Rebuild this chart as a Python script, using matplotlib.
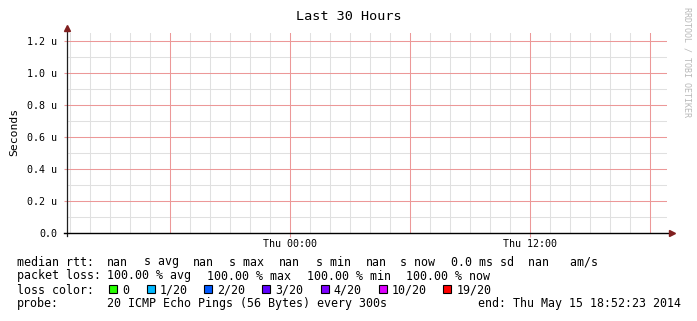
import datetime as dt
import numpy as np
import matplotlib
matplotlib.use("Agg")
import matplotlib.pyplot as plt
import matplotlib.dates as mdates
from matplotlib.patches import Rectangle

# graph window (smokeping "Last 30 Hours")
end_time = dt.datetime(2014, 5, 15, 18, 52, 23)
start_time = end_time - dt.timedelta(hours=30)

# median rtt samples - probe got nothing back, every value is nan
rtt_times = []
rtt_values = []

y_top = 1.25e-6
y_ticks = [0.0, 0.2e-6, 0.4e-6, 0.6e-6, 0.8e-6, 1.0e-6, 1.2e-6]
y_tick_labels = ["0.0", "0.2 u", "0.4 u", "0.6 u", "0.8 u", "1.0 u", "1.2 u"]
y_minor = [0.1e-6, 0.3e-6, 0.5e-6, 0.7e-6, 0.9e-6, 1.1e-6]
x_label_times = [dt.datetime(2014, 5, 15, 0, 0), dt.datetime(2014, 5, 15, 12, 0)]
x_tick_labels = ["Thu 00:00", "Thu 12:00"]

# legend text
rtt_stats = ["nan", "nan", "nan", "nan", "0.0", "nan"]
loss_stats = ["100.00", "100.00", "100.00", "100.00"]
loss_labels = ["0", "1/20", "2/20", "3/20", "4/20", "10/20", "19/20"]
loss_colors = ["#26ff00", "#00b8ff", "#0059ff", "#5e00ff", "#7e00ff", "#dd00ff", "#ff0000"]
probe_text = "20 ICMP Echo Pings (56 Bytes) every 300s"
end_text = "end: Thu May 15 18:52:23 2014"

W, H = 697, 321
mono = "DejaVu Sans Mono"
fig = plt.figure(figsize=(W / 100, H / 100), dpi=100)
fig.patch.set_facecolor("white")

# plot area 600x200 px
ax = fig.add_axes([67 / W, (H - 233) / H, 600 / W, 200 / H])
ax.set_xlim(start_time, end_time)
ax.set_ylim(0, y_top)

for s in ax.spines.values():
    s.set_visible(False)

major_col = "#ec9898"
minor_col = "#e0e0e0"

# grid: hour lines grey, every 6h red; y every 0.1u grey, every 0.2u red
hours = mdates.HourLocator().tick_values(start_time, end_time)
for h in hours:
    on_major = mdates.num2date(h).hour % 6 == 0
    if mdates.date2num(start_time) < h < mdates.date2num(end_time):
        ax.axvline(h, color=major_col if on_major else minor_col, lw=0.75,
                   snap=True, zorder=1.5 if on_major else 1)
for y in y_minor:
    ax.axhline(y, color=minor_col, lw=0.75, snap=True, zorder=1)
for y in y_ticks[1:]:
    ax.axhline(y, color=major_col, lw=0.75, snap=True, zorder=1.5)

ax.plot(rtt_times, rtt_values, color="#000000", zorder=3)

ax.set_xticks(mdates.date2num(x_label_times))
ax.set_xticklabels(x_tick_labels, family=mono, size=7.2)
ax.set_yticks(y_ticks)
ax.set_yticklabels(y_tick_labels, family=mono, size=7.2)
ax.tick_params(axis="x", length=3, color=major_col, pad=1)
ax.tick_params(axis="y", length=2, color=major_col, pad=5)

# axes lines + arrows like rrdtool
ax.plot([0, 0], [-3 / 200, 1 + 5 / 200], color="#1f1f1f", lw=0.9,
        transform=ax.transAxes, clip_on=False, zorder=4)
ax.plot([-3 / 600, 1 + 3 / 600], [0, 0], color="#000000", lw=1.0,
        transform=ax.transAxes, clip_on=False, zorder=4)
ax.plot([0], [1 + 5 / 200], marker="^", ms=4, color="#801f1f", mec="#801f1f",
        transform=ax.transAxes, clip_on=False, zorder=5)
ax.plot([1 + 5 / 600], [0], marker=">", ms=4, color="#801f1f", mec="#801f1f",
        transform=ax.transAxes, clip_on=False, zorder=5)


def put(x, y, s, **kw):
    kw.setdefault("family", mono)
    kw.setdefault("size", 8.4)
    fig.text(x / W, 1 - y / H, s, va="baseline", ha="left", **kw)


fig.text(349 / W, 1 - 16 / H, "Last 30 Hours", ha="center", va="center",
         family=mono, size=9.7)
fig.text(14 / W, 1 - 132 / H, "Seconds", rotation=90, ha="center",
         va="center", family=mono, size=8.2)
fig.text(687 / W, 1 - 62 / H, "RRDTOOL / TOBI OETIKER", rotation=-90,
         ha="center", va="center", family=mono, size=6, color="#b8b8b8")

# row 1: median rtt
r1 = 265.5
put(16.8, r1, "median rtt:")
for x, v in zip([106.7, 192.7, 278.7, 366.0], rtt_stats[:4]):
    put(x, r1, v)
for x, u in zip([143.5, 229.3, 315.5, 400.0], ["s avg", "s max", "s min", "s now"]):
    put(x, r1, u)
put(451.0, r1, "%s ms sd  %s   am/s" % (rtt_stats[4], rtt_stats[5]))

# row 2: packet loss
r2 = 279.5
put(16.8, r2, "packet loss:")
for x, v, u in zip([106.7, 206.7, 306.7, 406.2], loss_stats, ["avg", "max", "min", "now"]):
    put(x, r2, "%s %% %s" % (v, u))

# row 3: loss colours
r3 = 293.5
put(16.8, r3, "loss color:")
for x, lab, col in zip([109, 146.7, 204, 262, 320.7, 379, 443.3], loss_labels, loss_colors):
    fig.add_artist(Rectangle((x / W, 1 - 292.5 / H), 8 / W, 8 / H, facecolor=col,
                             edgecolor="black", lw=0.8, transform=fig.transFigure))
    put(x + 13, r3, lab)

# row 4: probe + end time
r4 = 307.5
put(16.8, r4, "probe:")
put(106.7, r4, probe_text)
put(477.8, r4, end_text)

fig.savefig("out.png", dpi=100)
